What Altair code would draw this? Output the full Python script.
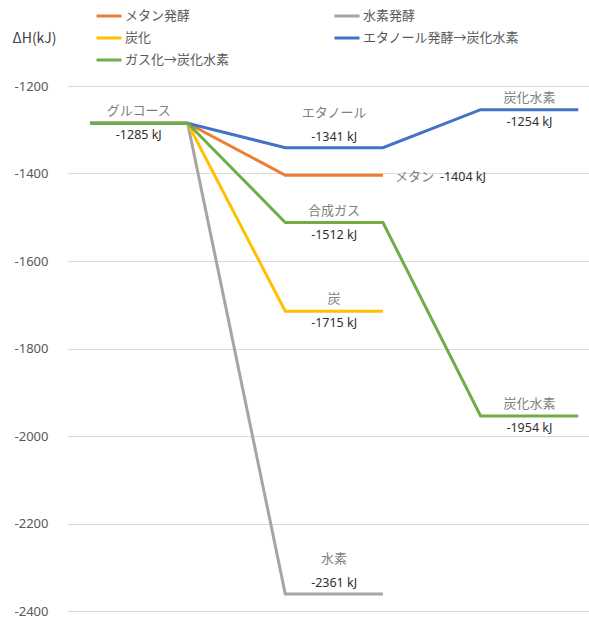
import altair as alt
import pandas as pd

# Reaction pathways from glucose and their enthalpy levels (kJ)
series_names = ["メタン発酵", "水素発酵", "炭化", "エタノール発酵→炭化水素", "ガス化→炭化水素"]
series_colors = ["#ED7D31", "#A5A5A5", "#FFC000", "#4472C4", "#70AD47"]
glucose_dh = -1285
intermediate_dh = [-1404, -2361, -1715, -1341, -1512]
final_dh = [None, None, None, -1254, -1954]

# Level annotations: product name, enthalpy, stage (0 = start, 1 = middle, 2 = end)
label_names = ["グルコース", "エタノール", "炭化水素", "メタン", "合成ガス", "炭", "炭化水素", "水素"]
label_values = [-1285, -1341, -1254, -1404, -1512, -1715, -1954, -2361]
label_stages = [0, 1, 2, 1, 1, 1, 2, 1]

y_ticks = [-2400, -2200, -2000, -1800, -1600, -1400, -1200]

# Each energy level is a horizontal segment between two x positions
rows = []
for i, name in enumerate(series_names):
    levels = [glucose_dh, intermediate_dh[i]]
    if final_dh[i] is not None:
        levels.append(final_dh[i])
    for stage, dh in enumerate(levels):
        rows.append({"series": name, "order": i, "x": 2 * stage, "dh": dh})
        rows.append({"series": name, "order": i, "x": 2 * stage + 1, "dh": dh})
paths = pd.DataFrame(rows)

# How each annotation sits relative to its segment
placement = ["split", "above", "split", "right", "split", "split", "split", "above"]
labels = pd.DataFrame({
    "name": label_names,
    "dh": label_values,
    "stage": label_stages,
    "place": placement,
})
# centred over the segment, or just past its right end
labels["x"] = [2 * s + (1 if p == "right" else 0.5) for s, p in zip(label_stages, placement)]
labels["value_text"] = labels["dh"].astype(str) + " kJ"

x_scale = alt.Scale(domain=[-0.225, 5.11], nice=False, zero=False)
y_scale = alt.Scale(domain=[-2400, -1200], nice=False, zero=False)

JP = "Noto Sans CJK JP"
NAME_COLOR = "#7F7F7F"
VALUE_COLOR = "#303030"

lines = alt.Chart(paths).mark_line(strokeWidth=3, strokeCap="butt", strokeJoin="miter").encode(
    x=alt.X("x:Q", scale=x_scale, axis=None),
    y=alt.Y(
        "dh:Q",
        scale=y_scale,
        axis=alt.Axis(
            values=y_ticks,
            labelExpr="'' + datum.value",
            title="ΔH(kJ)",
            titleAngle=0,
            titleAlign="left",
            titleBaseline="middle",
            titleX=-56,
            titleY=-48,
            titleFont=JP,
            titleFontSize=14,
            titleFontWeight="normal",
            titleColor="#404040",
            labelFont="Noto Sans",
            labelFontSize=13,
            labelColor="#595959",
            labelPadding=20,
            ticks=False,
            domain=False,
            grid=True,
            gridColor="#D9D9D9",
            gridWidth=1,
        ),
    ),
    color=alt.Color(
        "series:N",
        scale=alt.Scale(domain=series_names, range=series_colors),
        legend=alt.Legend(
            title=None,
            orient="none",
            legendX=27,
            legendY=-84,
            columns=2,
            direction="horizontal",
            symbolType="stroke",
            symbolSize=625,
            symbolStrokeWidth=3,
            labelOffset=2,
            labelFont=JP,
            labelFontSize=13,
            labelColor="#595959",
            columnPadding=98,
            rowPadding=1,
            padding=0,
        ),
    ),
    order=alt.Order("x:Q"),
    detail="series:N",
)

base = alt.Chart(labels).encode(
    x=alt.X("x:Q", scale=x_scale),
    y=alt.Y("dh:Q", scale=y_scale),
)

split = base.transform_filter(alt.datum.place == "split")
above = base.transform_filter(alt.datum.place == "above")
right = base.transform_filter(alt.datum.place == "right")

split_names = split.mark_text(font=JP, fontSize=13, color=NAME_COLOR, dy=-12, baseline="middle").encode(text="name:N")
split_values = split.mark_text(font="Noto Sans", fontSize=12.5, color=VALUE_COLOR, dy=12, baseline="middle").encode(text="value_text:N")
above_names = above.mark_text(font=JP, fontSize=13, color=NAME_COLOR, dy=-35, baseline="middle").encode(text="name:N")
above_values = above.mark_text(font="Noto Sans", fontSize=12.5, color=VALUE_COLOR, dy=-11, baseline="middle").encode(text="value_text:N")
right_names = right.mark_text(font=JP, fontSize=13, color=NAME_COLOR, dx=12, dy=2, align="left", baseline="middle").encode(text="name:N")
right_values = right.mark_text(font="Noto Sans", fontSize=12.5, color=VALUE_COLOR, dx=57, dy=2, align="left", baseline="middle").encode(text="value_text:N")

chart = alt.layer(
    lines, split_names, split_values, above_names, above_values, right_names, right_values
).properties(
    width=521,
    height=525,
    autosize=alt.AutoSizeParams(type="none"),
    padding={"left": 68, "top": 86, "right": 0, "bottom": 8},
    background="white",
).configure_view(stroke=None)

chart.save("out.html", embed_options={"renderer": "svg", "actions": False})
